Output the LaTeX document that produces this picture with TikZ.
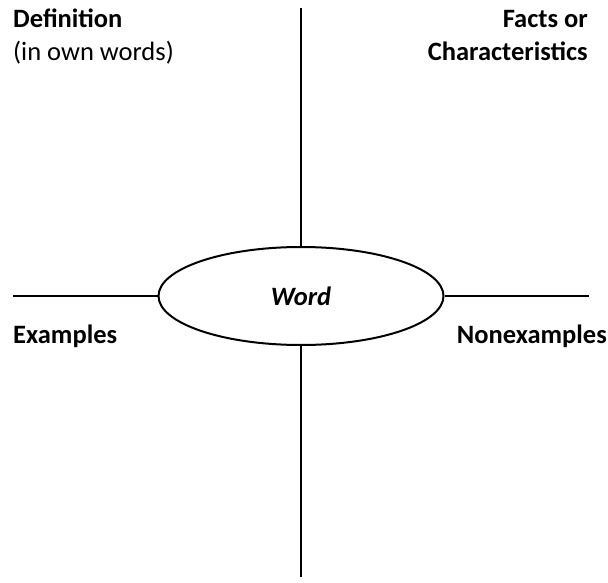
\documentclass[tikz,border=0pt]{standalone}
\usepackage{fontspec}
\setmainfont{Carlito}
\usetikzlibrary{positioning, shapes.geometric}

\begin{document}
\begin{tikzpicture}[
  x=1pt, y=1pt,
  word/.style={ellipse, draw, line width=2pt, minimum width=285pt, minimum height=98pt, inner sep=0pt, font=\fontsize{26.5}{33}\selectfont\bfseries\itshape},
  label/.style={inner sep=0pt, font=\fontsize{26.5}{33}\selectfont},
  heading/.style={label, font=\fontsize{26.5}{33}\selectfont\bfseries},
  axis/.style={line width=2pt}
]
\useasboundingbox (0,0) rectangle (608,-583);

% Centre
\node[word] (word) at (301,-296) {Word};

% Line ends
\coordinate (top) at (301,-8);
\coordinate (bottom) at (301,-577);
\coordinate (left) at (13,-296);
\coordinate (right) at (589,-296);

% Quadrant labels (base = last line)
\node[label, anchor=base west, align=left] (defn) at (13,-61) {\textbf{Definition}\\(in own words)};
\node[heading, anchor=base east, align=right] (facts) at (588,-61) {Facts or\\Characteristics};
\node[heading, anchor=base west] (examples) at (13,-343) {Examples};
\node[heading, anchor=base east] (nonex) at (607,-343) {Nonexamples};

% Lines
\draw[axis] (top) -- (word.north);
\draw[axis] (word.south) -- (bottom);
\draw[axis] (left) -- (word.west);
\draw[axis] (word.east) -- (right);

\end{tikzpicture}
\end{document}
